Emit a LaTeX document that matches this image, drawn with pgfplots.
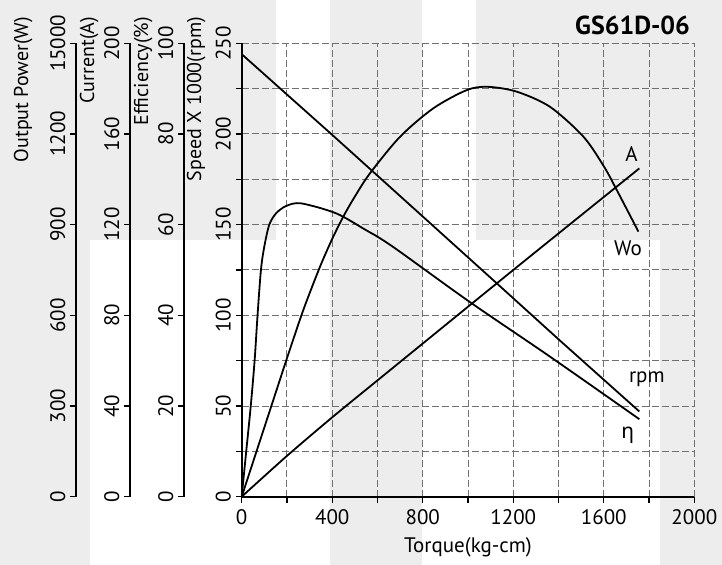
\documentclass[border=0pt]{standalone}
\usepackage{pgfplots}
\pgfplotsset{compat=1.18}
\usepackage{fontspec}
\setmainfont{PT Sans}
\newfontfamily\grk{Noto Sans}
\definecolor{bg}{HTML}{EDEDED}
\definecolor{gridc}{HTML}{707070}

\pgfplotsset{
  every axis/.append style={
    scale only axis, height=226.7pt,
    font=\fontsize{10.5}{12}\selectfont,
    /pgf/number format/assume math mode=true,
    /pgf/number format/1000 sep={},
  },
  ruler/.style={
    anchor=south west, width=1pt, xmin=0, xmax=1, ymin=0,
    axis x line=none, axis y line*=left,
    axis line style={line width=1pt},
    tick align=outside, major tick length=3pt,
    tick style={black, line width=0.6pt},
    yticklabel style={rotate=90, anchor=base},
    yticklabel shift=2.5pt,
  },
  overlay/.style={
    at={(120.85pt,34.15pt)}, anchor=south west, width=226.3pt,
    xmin=0, xmax=2000, ymin=0, hide axis,
  },
  curve/.style={black, line width=0.9pt},
}

\begin{document}
\begin{tikzpicture}
\useasboundingbox (0,0) rectangle (361pt,282.5pt);
% background patches
\fill[bg] (0pt,0pt) rectangle (45pt,282.5pt);
\fill[bg] (45pt,162.5pt) rectangle (138pt,282.5pt);
\fill[bg] (165pt,0pt) rectangle (211pt,282.5pt);
\fill[bg] (238pt,162.5pt) rectangle (361pt,282.5pt);
\fill[bg] (330pt,0pt) rectangle (361pt,162.5pt);

% extra scales on the left
\begin{axis}[ruler, at={(38pt,34.15pt)}, ymax=1500,
  ytick={0,300,600,900,1200,1500}, yticklabels={0,300,600,900,1200,15000}]
\end{axis}
\begin{axis}[ruler, at={(65pt,34.15pt)}, ymax=200,
  ytick={0,40,...,200}]
\end{axis}
\begin{axis}[ruler, at={(92pt,34.15pt)}, ymax=100,
  ytick={0,20,...,100}]
\end{axis}

% main axis: speed (x1000 rpm)
\begin{axis}[
  at={(120.85pt,34.15pt)}, anchor=south west, width=226.3pt,
  xmin=0, xmax=2000, ymin=0, ymax=250,
  axis x line*=bottom, axis y line*=left,
  axis line style={line width=1pt},
  xtick={0,400,...,2000}, minor xtick={200,600,...,1800},
  ytick={0,50,...,250}, minor ytick={25,75,...,225},
  grid=both,
  major grid style={gridc, line width=0.5pt, dash pattern=on 3.5pt off 1.5pt},
  minor grid style={gridc, line width=0.5pt, dash pattern=on 3.5pt off 1.5pt},
  tick align=outside, major tick length=3pt, minor tick length=3pt,
  tick style={black, line width=0.6pt},
  yticklabel style={rotate=90, anchor=base},
  yticklabel shift=2.5pt,
  xlabel={Torque(kg-cm)},
  xlabel style={at={(axis description cs:0.5,0)}, anchor=base, yshift=-28pt},
]
\addplot[curve] coordinates {
  (0,244) (400,199.5) (800,154.5) (1124,118) (1407,86) (1757,47)
};
\node at (axis cs:1723,189) {A};
\node at (axis cs:1707,137) {Wo};
\node at (axis cs:1790,65) {rpm};
\node at (axis cs:1706,34) {\grk η};
\end{axis}

% output power (W)
\begin{axis}[overlay, ymax=1500]
\addplot[curve, smooth] coordinates {
  (0,0) (131,300) (200,458) (262,596) (300,673) (350,768) (400,853)
  (450,928) (500,993) (567,1070) (700,1191) (847,1285) (994,1345)
  (1087,1356) (1215,1340) (1362,1290) (1510,1191) (1601,1092)
  (1657,1015) (1753,877)
};
\end{axis}

% current (A)
\begin{axis}[overlay, ymax=200]
\addplot[curve, smooth] coordinates {
  (0,0) (200,18) (400,35) (611,52.2) (1200,100) (1757,144.8)
};
\end{axis}

% efficiency (%)
\begin{axis}[overlay, ymax=100]
\addplot[curve, smooth] coordinates {
  (0,0) (20,10) (40,20) (57,30) (70,40) (85,50) (100,55.2) (122,60)
  (152,62.5) (196,64.1) (262,64.7) (417,62.5) (549,58.8) (611,57)
  (700,54) (1012,42.8) (1362,30.9) (1757,17.1)
};
\end{axis}

% scale titles
\node[rotate=90, anchor=base east] at (14pt,277.5pt) {Output Power(W)};
\node[rotate=90, anchor=base east] at (47pt,277.5pt) {Current(A)};
\node[rotate=90, anchor=base east] at (74pt,277.5pt) {Efficiency(\%)};
\node[rotate=90, anchor=base east] at (100.5pt,277.5pt) {Speed X 1000(rpm)};
\node[anchor=base east, font=\fontsize{13}{15}\selectfont\bfseries] at (348.5pt,265pt) {GS61D-06};
\end{tikzpicture}
\end{document}
